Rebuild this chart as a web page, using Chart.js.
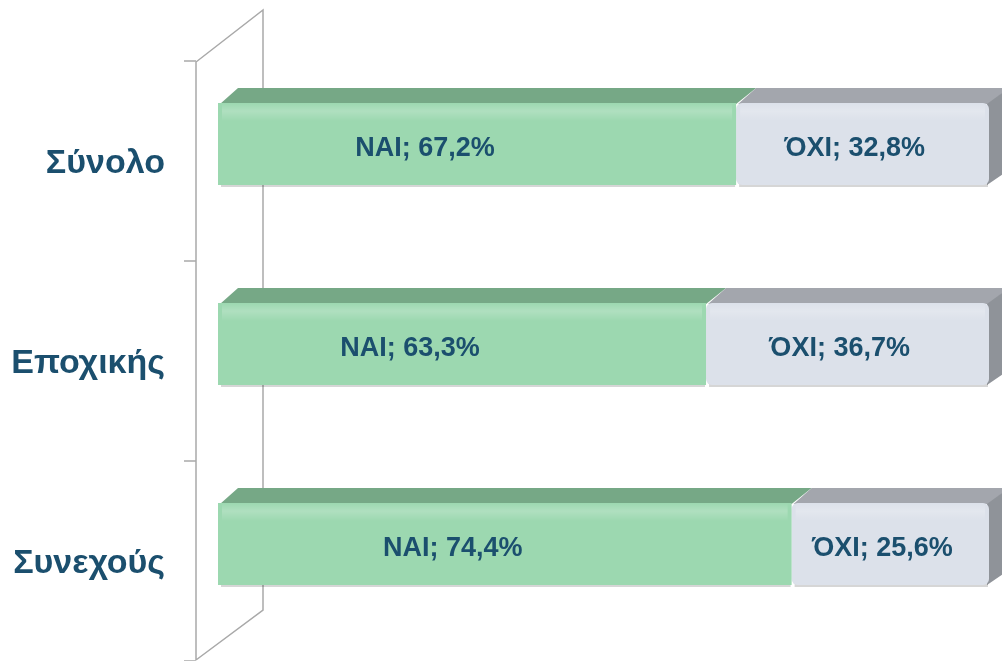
<!DOCTYPE html>
<html>
<head>
<meta charset="utf-8">
<script src="https://cdn.jsdelivr.net/npm/chart.js@4/dist/chart.umd.min.js"></script>
<style>
  html, body { margin: 0; background: #fff; }
  #wrap { width: 1002px; height: 661px; position: relative; }
</style>
</head>
<body>
<div id="wrap"><canvas id="chart"></canvas></div>
<script>
// values
const categories = ["Σύνολο", "Εποχικής", "Συνεχούς"];
const seriesNames = ["NAI", "ΌΧΙ"];
const yesValues = [67.2, 63.3, 74.4];
const noValues = [32.8, 36.7, 25.6];

const TEXT = "#1b4f6e";
const FRONT = ["#9cd8b0", "#dce1ea"];
const TOP = ["#76a886", "#a3a6ad"];
const SIDE = "#8f9399";
const DX = 20, DY = 15;

const fmt = (v) => v.toFixed(1).replace(".", ",") + "%";

// fake 3D: back/side walls, top and side faces of the bars
const depth = {
  id: "depth",
  beforeDatasetsDraw(chart) {
    const { ctx, chartArea: a, scales: { y } } = chart;
    ctx.save();
    ctx.strokeStyle = "#a9a9a9";
    ctx.lineWidth = 1.5;
    const fx = a.left - 22, bx = a.left + 45;
    const ft = a.top + 18, fb = a.bottom + 16, bt = a.top - 34, bb = a.bottom - 34;
    ctx.beginPath();
    ctx.moveTo(fx, fb); ctx.lineTo(fx, ft); ctx.lineTo(bx, bt); ctx.lineTo(bx, bb); ctx.lineTo(fx, fb);
    ctx.stroke();
    for (let i = 0; i <= categories.length; i++) {
      const yy = y.getPixelForValue(i - 0.5) + 17;
      ctx.beginPath(); ctx.moveTo(fx - 12, yy); ctx.lineTo(fx, yy); ctx.stroke();
    }
    const last = chart.data.datasets.length - 1;
    chart.data.datasets.forEach((ds, di) => {
      chart.getDatasetMeta(di).data.forEach((bar) => {
        const top = bar.y - bar.height / 2, bot = bar.y + bar.height / 2;
        ctx.fillStyle = TOP[di];
        ctx.beginPath();
        ctx.moveTo(bar.base + 2, top + 1); ctx.lineTo(bar.x, top + 1);
        ctx.lineTo(bar.x + DX, top - DY); ctx.lineTo(bar.base + DX, top - DY);
        ctx.closePath(); ctx.fill();
        if (di === last) {
          ctx.fillStyle = SIDE;
          ctx.beginPath();
          ctx.moveTo(bar.x - 2, top + 1); ctx.lineTo(bar.x + DX, top - DY);
          ctx.lineTo(bar.x + DX, bot - DY); ctx.lineTo(bar.x - 2, bot);
          ctx.closePath(); ctx.fill();
        }
        // soft shadow under the front face
        ctx.fillStyle = "rgba(0,0,0,0.16)";
        ctx.fillRect(bar.base + 3, bot - 1, bar.x - bar.base - 4, 3);
      });
    });
    ctx.restore();
  },
  afterDatasetsDraw(chart) {
    const { ctx } = chart;
    ctx.save();
    chart.data.datasets.forEach((ds, di) => {
      chart.getDatasetMeta(di).data.forEach((bar, i) => {
        const top = bar.y - bar.height / 2;
        const w = bar.x - bar.base;
        // faint highlight strip near the top edge
        const g = ctx.createLinearGradient(0, top, 0, top + 18);
        g.addColorStop(0, "rgba(255,255,255,0)");
        g.addColorStop(0.45, "rgba(255,255,255,0.2)");
        g.addColorStop(1, "rgba(255,255,255,0)");
        ctx.fillStyle = g;
        ctx.fillRect(bar.base + 4, top, w - 8, 18);
        // label
        const shift = di === 0 ? -52 : -8;
        ctx.fillStyle = TEXT;
        ctx.font = "bold 27px 'Liberation Sans', Arial, sans-serif";
        ctx.textAlign = "center";
        ctx.textBaseline = "middle";
        ctx.fillText(seriesNames[di] + "; " + fmt(ds.data[i]), bar.base + w / 2 + shift, bar.y + 5);
      });
    });
    ctx.restore();
  },
};

new Chart(document.getElementById("chart"), {
  type: "bar",
  data: {
    labels: categories,
    datasets: [
      { label: seriesNames[0], data: yesValues, backgroundColor: FRONT[0] },
      { label: seriesNames[1], data: noValues, backgroundColor: FRONT[1] },
    ],
  },
  options: {
    indexAxis: "y",
    responsive: true,
    maintainAspectRatio: false,
    animation: false,
    events: [],
    layout: { padding: { top: 44, right: 13, bottom: 17, left: 0 } },
    datasets: {
      bar: {
        categoryPercentage: 1,
        barPercentage: 0.41,
        borderRadius: 6,
        borderSkipped: false,
      },
    },
    plugins: { legend: { display: false }, tooltip: { enabled: false } },
    scales: {
      x: { stacked: true, min: 0, max: 100, display: false },
      y: {
        stacked: true,
        grid: { display: false },
        border: { display: false },
        afterFit: (s) => { s.width = 218; s.paddingTop = 0; s.paddingBottom = 0; },
        ticks: {
          padding: 45,
          labelOffset: 20,
          color: TEXT,
          font: { family: "'Liberation Sans', Arial, sans-serif", size: 34, weight: "bold" },
        },
      },
    },
  },
  plugins: [depth],
});
</script>
</body>
</html>
